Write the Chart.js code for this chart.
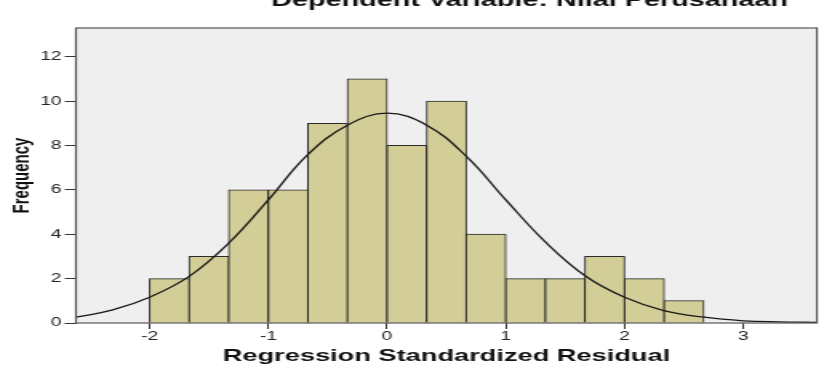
<!DOCTYPE html>
<html><head><meta charset="utf-8">
<script src="https://cdn.jsdelivr.net/npm/chart.js@4.4.1/dist/chart.umd.min.js"></script>
<style>
html,body{margin:0;padding:0;background:#fff;overflow:hidden;width:819px;height:369px}
#wrap{position:absolute;left:0;top:0;width:512px;height:369px;transform:scaleX(1.6);transform-origin:0 0}
canvas{display:block}
</style></head><body>
<div id="wrap"><canvas id="c" width="512" height="369"></canvas></div>
<script>
const chartTitle = 'Dependent Variable: Nilai Perusahaan';
const xTitle = 'Regression Standardized Residual';
const yTitle = 'Frequency';
const binCenters = [-1.833, -1.5, -1.167, -0.833, -0.5, -0.167, 0.167, 0.5, 0.833, 1.167, 1.5, 1.833, 2.167, 2.5];
const frequencies = [2, 3, 6, 6, 9, 11, 8, 10, 4, 2, 2, 3, 2, 1];
const curveX = [-2.62, -2.31, -2.0, -1.67, -1.33, -1.0, -0.67, -0.33, 0, 0.33, 0.67, 1.0, 1.33, 1.67, 2.0, 2.33, 2.67, 3.0, 3.3, 3.62];
const curveY = [0.26, 0.59, 1.16, 2.09, 3.62, 5.55, 7.58, 8.93, 9.46, 8.93, 7.5, 5.55, 3.67, 2.12, 1.16, 0.56, 0.26, 0.1, 0.05, 0.03];
const xTickValues = [-2, -1, 0, 1, 2, 3];
const yTickValues = [0, 2, 4, 6, 8, 10, 12];

const FONT = '"Liberation Sans", Arial, Helvetica, sans-serif';

const framePlugin = {
  id: 'frame',
  beforeDraw(chart) {
    const {ctx, chartArea: a} = chart;
    ctx.save();
    ctx.fillStyle = '#efefef';
    ctx.fillRect(a.left, a.top, a.right - a.left, a.bottom - a.top);
    ctx.restore();
  },
  afterDraw(chart) {
    const {ctx, chartArea: a} = chart;
    ctx.save();
    ctx.strokeStyle = '#555';
    ctx.lineWidth = 1.2;
    ctx.strokeRect(a.left, a.top, a.right - a.left, a.bottom - a.top);
    ctx.fillStyle = '#111';
    ctx.font = 'bold 18px ' + FONT;
    ctx.textAlign = 'center';
    ctx.textBaseline = 'alphabetic';
    ctx.fillText(chartTitle, 331, 6);
    ctx.restore();
  }
};

new Chart(document.getElementById('c'), {
  data: {
    datasets: [
      {
        type: 'line',
        order: 0,
        data: curveX.map((x, i) => ({x: x, y: curveY[i]})),
        borderColor: '#1a1a1a',
        borderWidth: 1.3,
        pointRadius: 0,
        tension: 0.4,
        fill: false
      },
      {
        type: 'bar',
        order: 1,
        data: binCenters.map((x, i) => ({x: x, y: frequencies[i]})),
        backgroundColor: '#d3ce97',
        borderColor: '#2a2a2a',
        borderWidth: 1,
        barPercentage: 1,
        categoryPercentage: 1,
        inflateAmount: 0.5
      }
    ]
  },
  options: {
    responsive: false,
    animation: false,
    devicePixelRatio: 1,
    layout: {padding: {top: 28, right: 1.4, left: 0, bottom: 0}},
    plugins: {legend: {display: false}, tooltip: {enabled: false}, title: {display: false}},
    scales: {
      x: {
        type: 'linear',
        position: 'bottom',
        offset: false,
        min: -2.62,
        max: 3.62,
        afterBuildTicks(s) { s.ticks = xTickValues.map(v => ({value: v})); },
        afterFit(s) { s.height = 46; },
        ticks: {font: {size: 12, family: FONT}, color: '#222', padding: 0, maxRotation: 0, autoSkip: false},
        grid: {display: true, offset: false, drawOnChartArea: false, drawTicks: true, tickLength: 6, color: '#333', lineWidth: 1},
        border: {display: false},
        title: {display: true, text: xTitle, color: '#111', font: {size: 17, weight: 'bold', family: FONT}, padding: {top: 0, bottom: 2}}
      },
      y: {
        type: 'linear',
        min: 0,
        max: 13.3,
        afterBuildTicks(s) { s.ticks = yTickValues.map(v => ({value: v})); },
        afterFit(s) { s.width = 47.5; },
        ticks: {font: {size: 12, family: FONT}, color: '#222', padding: 2},
        grid: {display: true, drawOnChartArea: false, drawTicks: true, tickLength: 7, color: '#333', lineWidth: 1},
        border: {display: false},
        title: {display: true, text: yTitle, color: '#111', font: {size: 15, weight: 'bold', family: FONT}, padding: {top: 4.5, bottom: 0}}
      }
    }
  },
  plugins: [framePlugin]
});
</script>
</body></html>
